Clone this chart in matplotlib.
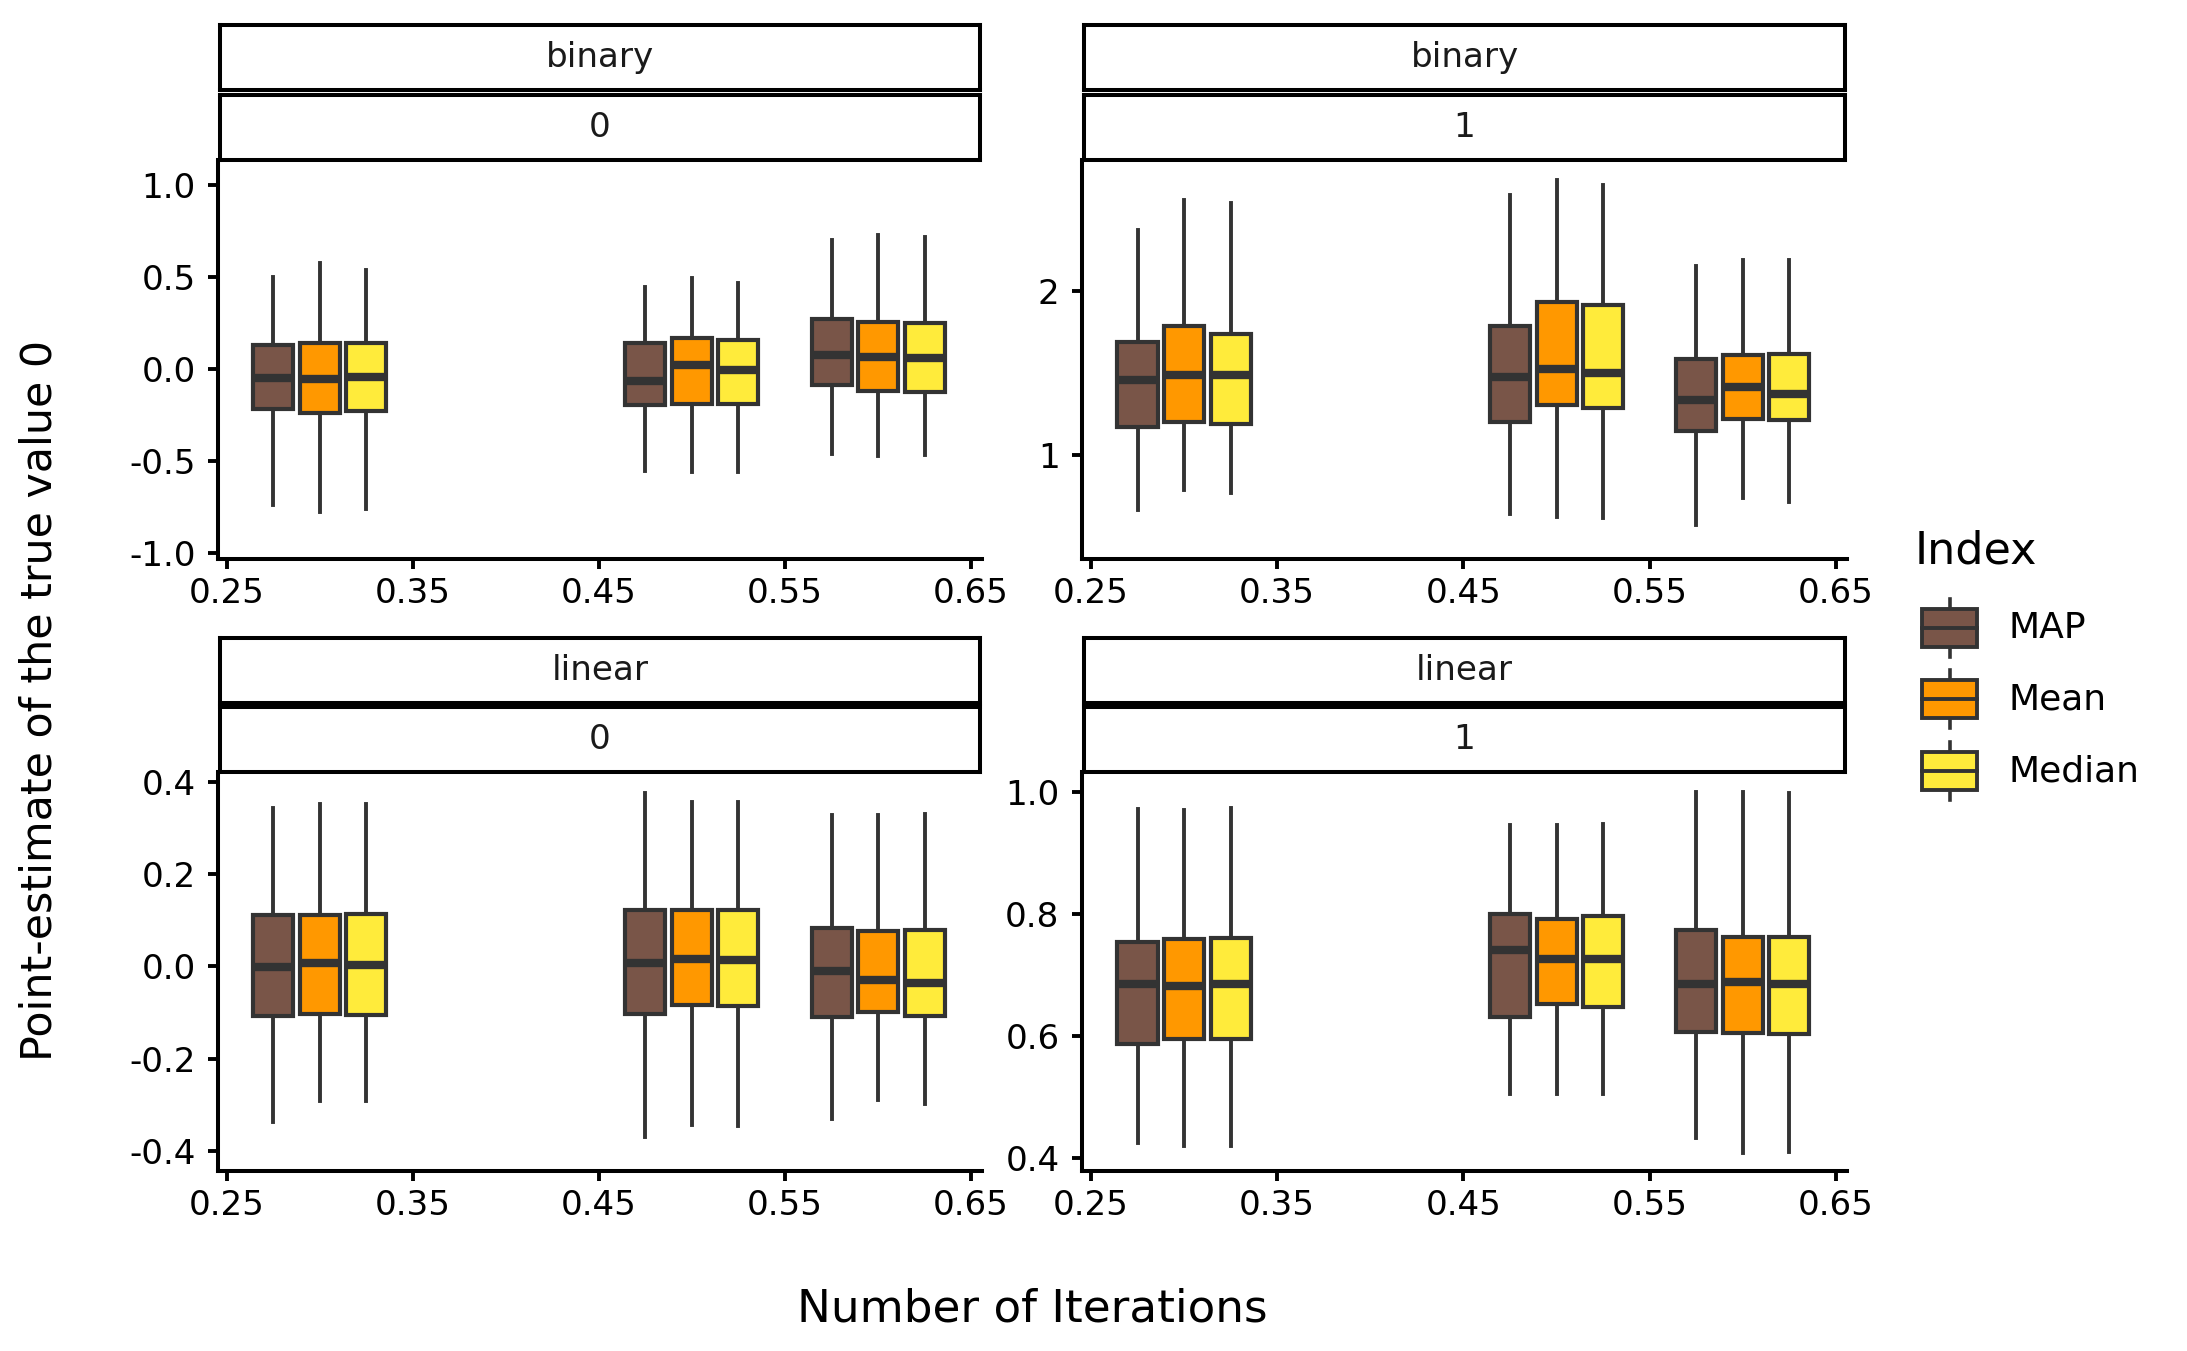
import matplotlib
matplotlib.use('Agg')
import matplotlib.pyplot as plt
from matplotlib.patches import Rectangle

# ---- data: [lower whisker, q1, median, q3, upper whisker] at each x ----
x_groups = [0.3, 0.5, 0.6]
methods = ["MAP", "Mean", "Median"]
colors = ["#795548", "#FF9800", "#FFEB3B"]

binary0_map = [[-0.74, -0.22, -0.05, 0.13, 0.50], [-0.554, -0.197, -0.067, 0.14, 0.442], [-0.464, -0.088, 0.075, 0.268, 0.70]]
binary0_mean = [[-0.775, -0.24, -0.054, 0.142, 0.573], [-0.558, -0.19, 0.021, 0.17, 0.491], [-0.472, -0.118, 0.062, 0.254, 0.727]]
binary0_median = [[-0.762, -0.228, -0.045, 0.14, 0.536], [-0.558, -0.19, -0.006, 0.157, 0.466], [-0.468, -0.126, 0.058, 0.25, 0.717]]

binary1_map = [[0.661, 1.172, 1.46, 1.692, 2.373], [0.642, 1.199, 1.479, 1.787, 2.588], [0.569, 1.146, 1.339, 1.586, 2.153]]
binary1_mean = [[0.787, 1.204, 1.489, 1.789, 2.562], [0.622, 1.308, 1.523, 1.934, 2.683], [0.738, 1.221, 1.416, 1.61, 2.194]]
binary1_median = [[0.768, 1.187, 1.49, 1.741, 2.54], [0.613, 1.288, 1.504, 1.92, 2.651], [0.714, 1.211, 1.375, 1.617, 2.194]]

linear0_map = [[-0.337, -0.107, -0.002, 0.111, 0.343], [-0.369, -0.103, 0.008, 0.122, 0.375], [-0.331, -0.11, -0.009, 0.084, 0.328]]
linear0_mean = [[-0.292, -0.103, 0.007, 0.111, 0.351], [-0.343, -0.083, 0.017, 0.122, 0.355], [-0.29, -0.099, -0.03, 0.077, 0.327]]
linear0_median = [[-0.291, -0.106, 0.003, 0.114, 0.351], [-0.345, -0.086, 0.013, 0.122, 0.355], [-0.298, -0.107, -0.035, 0.078, 0.329]]

linear1_map = [[0.425, 0.587, 0.686, 0.755, 0.973], [0.505, 0.632, 0.741, 0.80, 0.946], [0.433, 0.607, 0.685, 0.774, 1.001]]
linear1_mean = [[0.42, 0.595, 0.683, 0.759, 0.970], [0.505, 0.652, 0.726, 0.792, 0.946], [0.408, 0.605, 0.688, 0.762, 1.0]]
linear1_median = [[0.42, 0.595, 0.685, 0.761, 0.974], [0.505, 0.648, 0.726, 0.797, 0.947], [0.41, 0.603, 0.686, 0.762, 0.998]]

x_ticks = [0.25, 0.35, 0.45, 0.55, 0.65]
x_ticklabels = ["0.25", "0.35", "0.45", "0.55", "0.65"]

panels = [
    # (model, value, data, yticks, yticklabels, ylim, col, row)
    ("binary", "0", [binary0_map, binary0_mean, binary0_median],
     [-1.0, -0.5, 0.0, 0.5, 1.0], ["-1.0", "-0.5", "0.0", "0.5", "1.0"], (-1.031, 1.133), 0, 0),
    ("binary", "1", [binary1_map, binary1_mean, binary1_median],
     [1, 2], ["1", "2"], (0.364, 2.804), 1, 0),
    ("linear", "0", [linear0_map, linear0_mean, linear0_median],
     [-0.4, -0.2, 0.0, 0.2, 0.4], ["-0.4", "-0.2", "0.0", "0.2", "0.4"], (-0.443, 0.421), 0, 1),
    ("linear", "1", [linear1_map, linear1_mean, linear1_median],
     [0.4, 0.6, 0.8, 1.0], ["0.4", "0.6", "0.8", "1.0"], (0.379, 1.033), 1, 1),
]

# ---- layout in pixels ----
W, H = 2187, 1351
DPI = 200
EDGE = "#333333"

col_x = [(218, 982), (1082, 1847)]
row_axes = [(160, 559), (772, 1171)]
row_strips = [[(24.5, 90), (95, 160)], [(637.5, 702.5), (707, 772)]]


def px_rect(left, top, right, bottom):
    return [left / W, 1 - bottom / H, (right - left) / W, (bottom - top) / H]


fig = plt.figure(figsize=(W / DPI, H / DPI), dpi=DPI)
fig.patch.set_facecolor("white")

offsets = [-0.025, 0.0, 0.025]
box_w = 0.0215

for model, val, series, yt, ytl, ylim, c, r in panels:
    l, rr = col_x[c]
    t, b = row_axes[r]
    ax = fig.add_axes(px_rect(l, t, rr, b))
    for k, data in enumerate(series):
        stats = [dict(whislo=d[0], q1=d[1], med=d[2], q3=d[3], whishi=d[4], fliers=[]) for d in data]
        pos = [xg + offsets[k] for xg in x_groups]
        ax.bxp(stats, positions=pos, widths=box_w, patch_artist=True,
               showcaps=False, showfliers=False, manage_ticks=False,
               boxprops=dict(facecolor=colors[k], edgecolor=EDGE, linewidth=1.5),
               whiskerprops=dict(color=EDGE, linewidth=1.4),
               medianprops=dict(color=EDGE, linewidth=3.0, solid_capstyle="butt"))
    ax.set_xlim(0.2452, 0.6559)
    ax.set_ylim(*ylim)
    ax.set_xticks(x_ticks)
    ax.set_xticklabels(x_ticklabels)
    ax.set_yticks(yt)
    ax.set_yticklabels(ytl)
    for s in ["top", "right"]:
        ax.spines[s].set_visible(False)
    for s in ["left", "bottom"]:
        ax.spines[s].set_linewidth(1.45)
        ax.spines[s].set_color("black")
    ax.tick_params(length=3.6, width=1.4, color="black", labelsize=12.3, labelcolor="black")
    ax.tick_params(axis="y", pad=4.5)
    ax.tick_params(axis="x", pad=3.0)

    # facet strips
    labels = [model, val]
    for (st, sb), lab in zip(row_strips[r], labels):
        sax = fig.add_axes(px_rect(l + 2, st, rr - 2, sb))
        sax.set_xticks([])
        sax.set_yticks([])
        for s in sax.spines.values():
            s.set_linewidth(1.45)
            s.set_color("black")
        sax.text(0.5, 0.5, lab, ha="center", va="center", fontsize=12.3, color="#1A1A1A",
                 transform=sax.transAxes)

# axis titles
fig.text(1032 / W, 1 - 1309 / H, "Number of Iterations", ha="center", va="center", fontsize=16.3)
fig.text(40 / W, 1 - 700 / H, "Point-estimate of the true value 0", ha="center", va="center",
         rotation=90, fontsize=15.4)

# legend (drawn by hand to mimic ggplot keys)
lax = fig.add_axes([0, 0, 1, 1])
lax.set_xlim(0, W)
lax.set_ylim(H, 0)
lax.axis("off")
lax.text(1915, 563, "Index", ha="left", va="baseline", fontsize=16)
key_y = [628, 699, 771]
for name, col, ky in zip(methods, colors, key_y):
    lax.plot([1949.5, 1949.5], [ky - 29, ky + 29], color=EDGE, lw=1.3, zorder=1)
    lax.add_patch(Rectangle((1922, ky - 19), 55, 38, facecolor=col, edgecolor=EDGE, lw=1.4, zorder=2))
    lax.plot([1922, 1977], [ky, ky], color=EDGE, lw=1.4, zorder=3)
    lax.text(2009, ky, name, ha="left", va="center", fontsize=13)

fig.savefig("out.png", dpi=DPI, facecolor="white")
